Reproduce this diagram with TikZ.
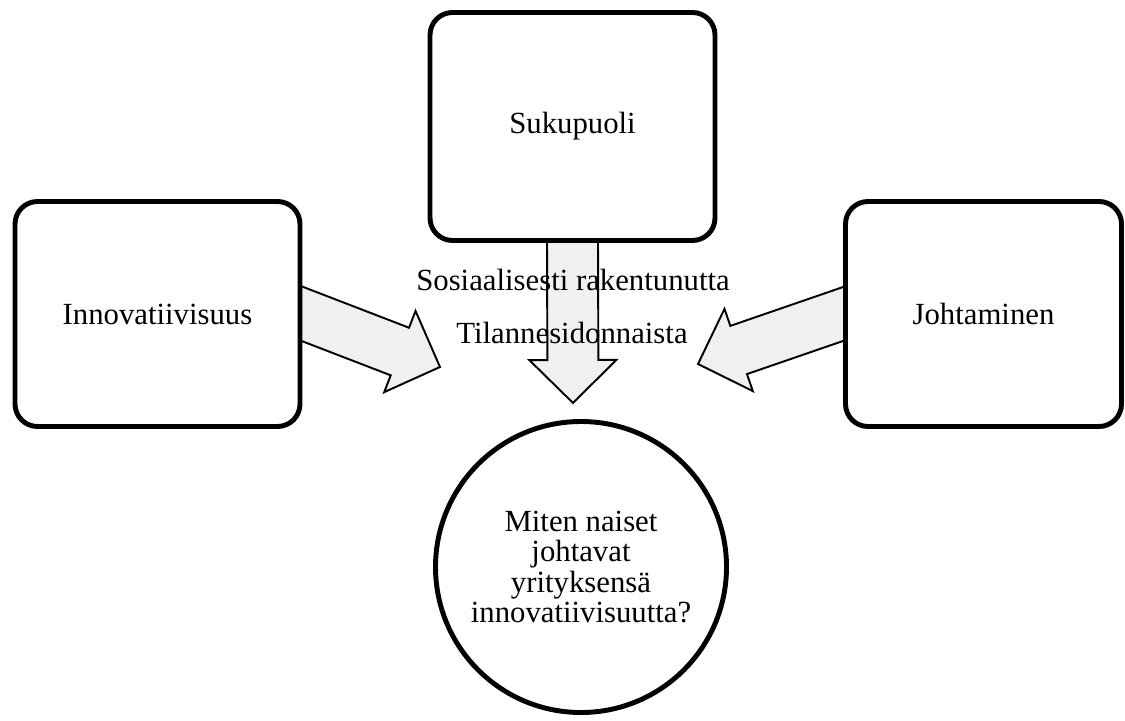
\documentclass[tikz,border=0pt]{standalone}
\usepackage{fontspec}
\setmainfont{Liberation Serif}
\usetikzlibrary{calc,backgrounds}

\begin{document}
\begin{tikzpicture}[font=\fontsize{17.5}{17.4}\selectfont,
 card/.style={draw,fill=white,line width=2.8pt,rounded corners=0.45cm,minimum width=5.7cm,minimum height=4.5cm,align=center},
 goal/.style={draw,circle,line width=2.8pt,minimum size=5.82cm,align=center},
 fat/.style={draw,line width=1.1pt,fill=gray!12,line join=miter}]
\useasboundingbox (0,0) rectangle (22.5,14.4);
\node[card] (innov) at (3.15,8.12) {Innovatiivisuus};
\node[card,minimum height=4.56cm] (suku) at (11.45,11.87) {Sukupuoli};
\node[card,minimum width=5.52cm] (johto) at (19.67,8.12) {Johtaminen};
\node[goal] (kys) at (11.62,3.06) {Miten naiset\\johtavat\\yrityksensä\\innovatiivisuutta?};
\coordinate (tipL) at (8.8,7.06);
\coordinate (tipD) at (11.46,6.34);
\coordinate (tipR) at (13.96,7.12);
% block arrows towards the question, tails hidden under the boxes
\begin{scope}[on background layer]
\foreach \a/\b in {innov.east/tipL,suku.south/tipD,johto.west/tipR}{
 \coordinate (t) at ($(\a)!-0.6cm!(\b)$);
 \coordinate (h) at ($(\b)!0.86cm!(\a)$);
 \draw[fat] ($(t)!0.51cm!90:(\b)$) -- ($(h)!0.51cm!90:(\b)$) -- ($(h)!0.87cm!90:(\b)$) -- (\b)
  -- ($(h)!0.87cm!-90:(\b)$) -- ($(h)!0.51cm!-90:(\b)$) -- ($(t)!0.51cm!-90:(\b)$) -- cycle;
}
\end{scope}
\node[anchor=base] (soc) at (11.46,8.58) {Sosiaalisesti rakentunutta};
\node[anchor=base] (sit) at (11.44,7.52) {Tilannesidonnaista};
\end{tikzpicture}
\end{document}
